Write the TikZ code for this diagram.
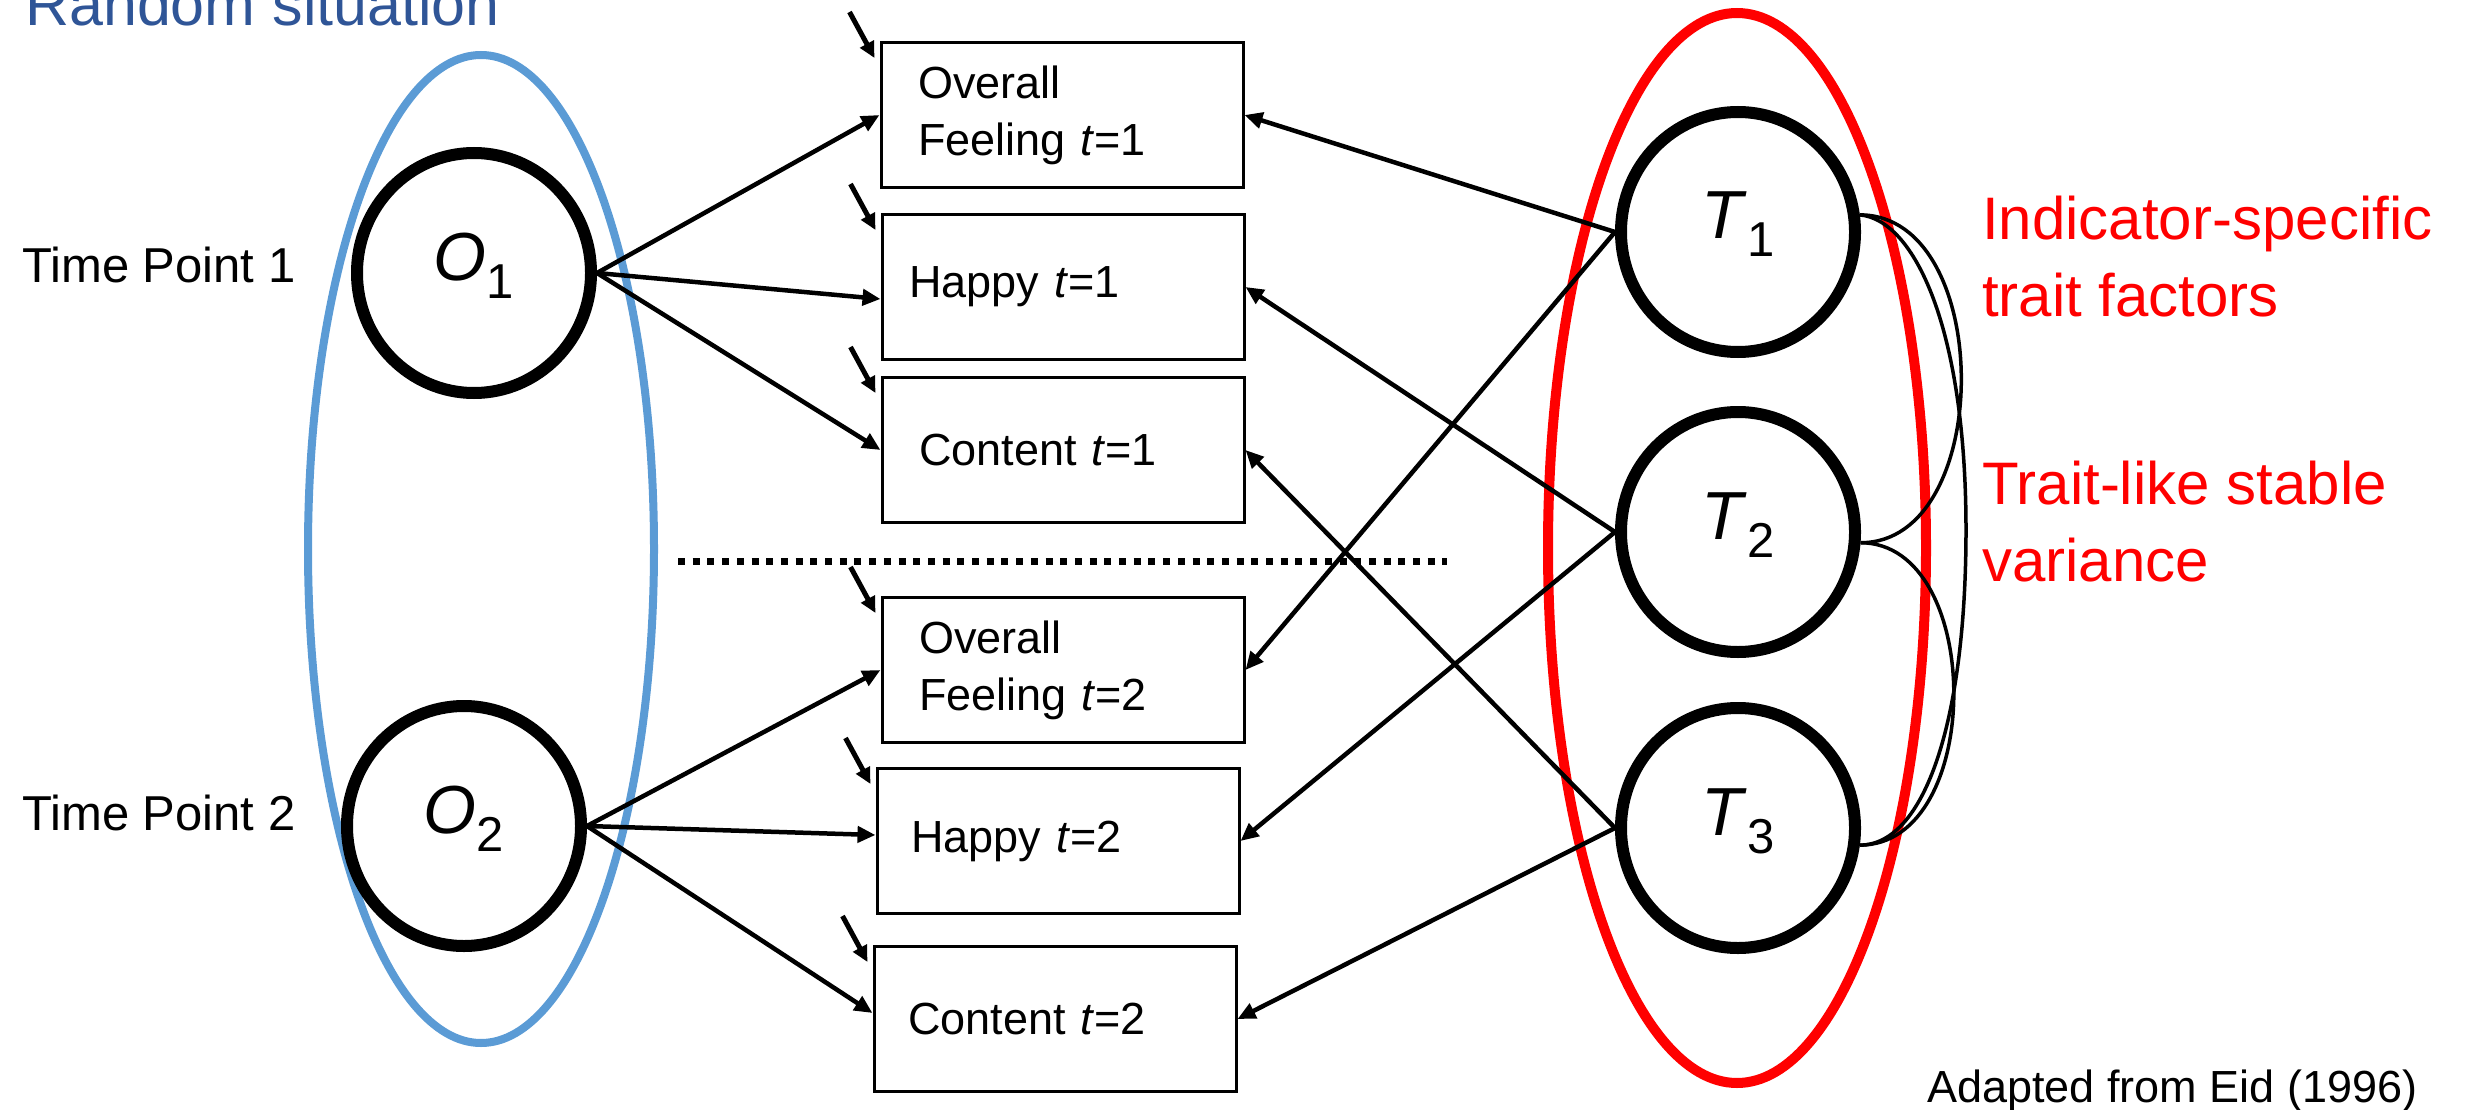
\documentclass[tikz,border=0pt]{standalone}
\usepackage{fontspec}
\setmainfont{Liberation Sans}
\usetikzlibrary{arrows.meta,shapes.geometric}
\definecolor{sitblue}{RGB}{91,155,213}
\definecolor{titleblue}{RGB}{47,85,151}
\definecolor{traitred}{RGB}{255,0,0}
\newcommand{\latlab}[2]{\textit{#1}\raisebox{-18pt}{\fontsize{49}{49}\selectfont #2}}
\begin{document}
\begin{tikzpicture}[x=1pt,y=-1pt,
  latent/.style={draw, ellipse, line width=12pt, minimum width=234pt, minimum height=240pt,
    inner sep=0pt, text height=32pt, text depth=18pt, font=\fontsize{68}{68}\selectfont},
  obsbox/.style={draw, rectangle, line width=3pt, minimum width=362pt, minimum height=145pt,
    inner xsep=37pt, text width=288pt, align=left, font=\fontsize{45}{57}\selectfont},
  load/.style={line width=4.5pt, -{Triangle[length=18pt,width=16pt]}},
  err/.style={line width=5pt, -{Triangle[length=16pt,width=15pt]}},
  cov/.style={line width=3.5pt},
  sidelab/.style={font=\fontsize{49}{49}\selectfont, inner sep=0pt},
  redlab/.style={text=traitred, align=left, inner sep=0pt, font=\fontsize{60}{77}\selectfont},
]
\useasboundingbox (0,0) rectangle (2471,1110);

% grouping ellipses
\draw[sitblue, line width=8pt] (481,549) ellipse [x radius=173pt, y radius=494pt];
\draw[traitred, line width=10pt] (1737,548) ellipse [x radius=189pt, y radius=535pt];

% titles and side labels
\node[anchor=base west, inner sep=0pt, text=titleblue, font=\fontsize{61}{61}\selectfont] (title) at (25,26) {Random situation};
\node[sidelab, anchor=base west] (tp1) at (22,282) {Time Point 1};
\node[sidelab, anchor=base west] (tp2) at (22,830) {Time Point 2};

% latent variables
\node[latent] (O1) at (474,273) {\latlab{O}{1}};
\node[latent] (O2) at (464,826) {\latlab{O}{2}};
\node[latent] (T1) at (1738,232) {\latlab{T}{1}};
\node[latent] (T2) at (1738,532) {\latlab{T}{2}};
\node[latent] (T3) at (1738,828) {\latlab{T}{3}};

% observed variables
\node[obsbox] (B1) at (1062,115) {Overall\\Feeling \textit{t}=1};
\node[obsbox, inner xsep=27pt, text width=308pt] (B2) at (1063,287) {Happy \textit{t}=1};
\node[obsbox] (B3) at (1063,450) {Content \textit{t}=1};
\node[obsbox] (B4) at (1063,670) {Overall\\Feeling \textit{t}=2};
\node[obsbox, inner xsep=34pt, text width=294pt] (B5) at (1058,841) {Happy \textit{t}=2};
\node[obsbox, inner xsep=34pt, text width=294pt] (B6) at (1055,1019) {Content \textit{t}=2};

% separator
\draw[line width=7pt, dash pattern=on 7pt off 7.7pt] (678,561) -- (1447,561);

% error arrows
\foreach \b in {B1,B2,B3,B4,B5,B6}{
  \draw[err] ([shift={(-30,-29)}]\b.north west) -- ([shift={(-5,17)}]\b.north west);
}

% loadings of occasion factors
\draw[load] (O1.east) -- (B1.west);
\draw[load] (O1.east) -- ([yshift=-12pt]B2.west);
\draw[load] (O1.east) -- (B3.west);
\draw[load] (O2.east) -- (B4.west);
\draw[load] (O2.east) -- ([yshift=6pt]B5.west);
\draw[load] (O2.east) -- ([yshift=6pt]B6.west);

% loadings of trait factors
\draw[load] (T1.west) -- (B1.east);
\draw[load] (T1.west) -- (B4.east);
\draw[load] (T2.west) -- (B2.east);
\draw[load] (T2.west) -- (B5.east);
\draw[load] (T3.west) -- (B3.east);
\draw[load] (T3.west) -- (B6.east);

% covariances
\draw[cov] (T1.8) .. controls (1995,215) and (1995,543) .. (T2.-5);
\draw[cov] (T2.-5) .. controls (1985,543) and (1985,845) .. (T3.-8);
\draw[cov] (T1.8) .. controls (1915,220) and (1966,330) .. (1966,530)
           .. controls (1966,720) and (1925,845) .. (T3.-8);

% red annotations
\node[redlab, anchor=base west] (ind) at (1982,316) {Indicator-specific\\trait factors};
\node[redlab, anchor=base west] (stab) at (1982,581) {Trait-like stable\\variance};

\node[anchor=base west, inner sep=0pt, font=\fontsize{45}{45}\selectfont] (src) at (1927,1102) {Adapted from Eid (1996)};
\end{tikzpicture}
\end{document}
